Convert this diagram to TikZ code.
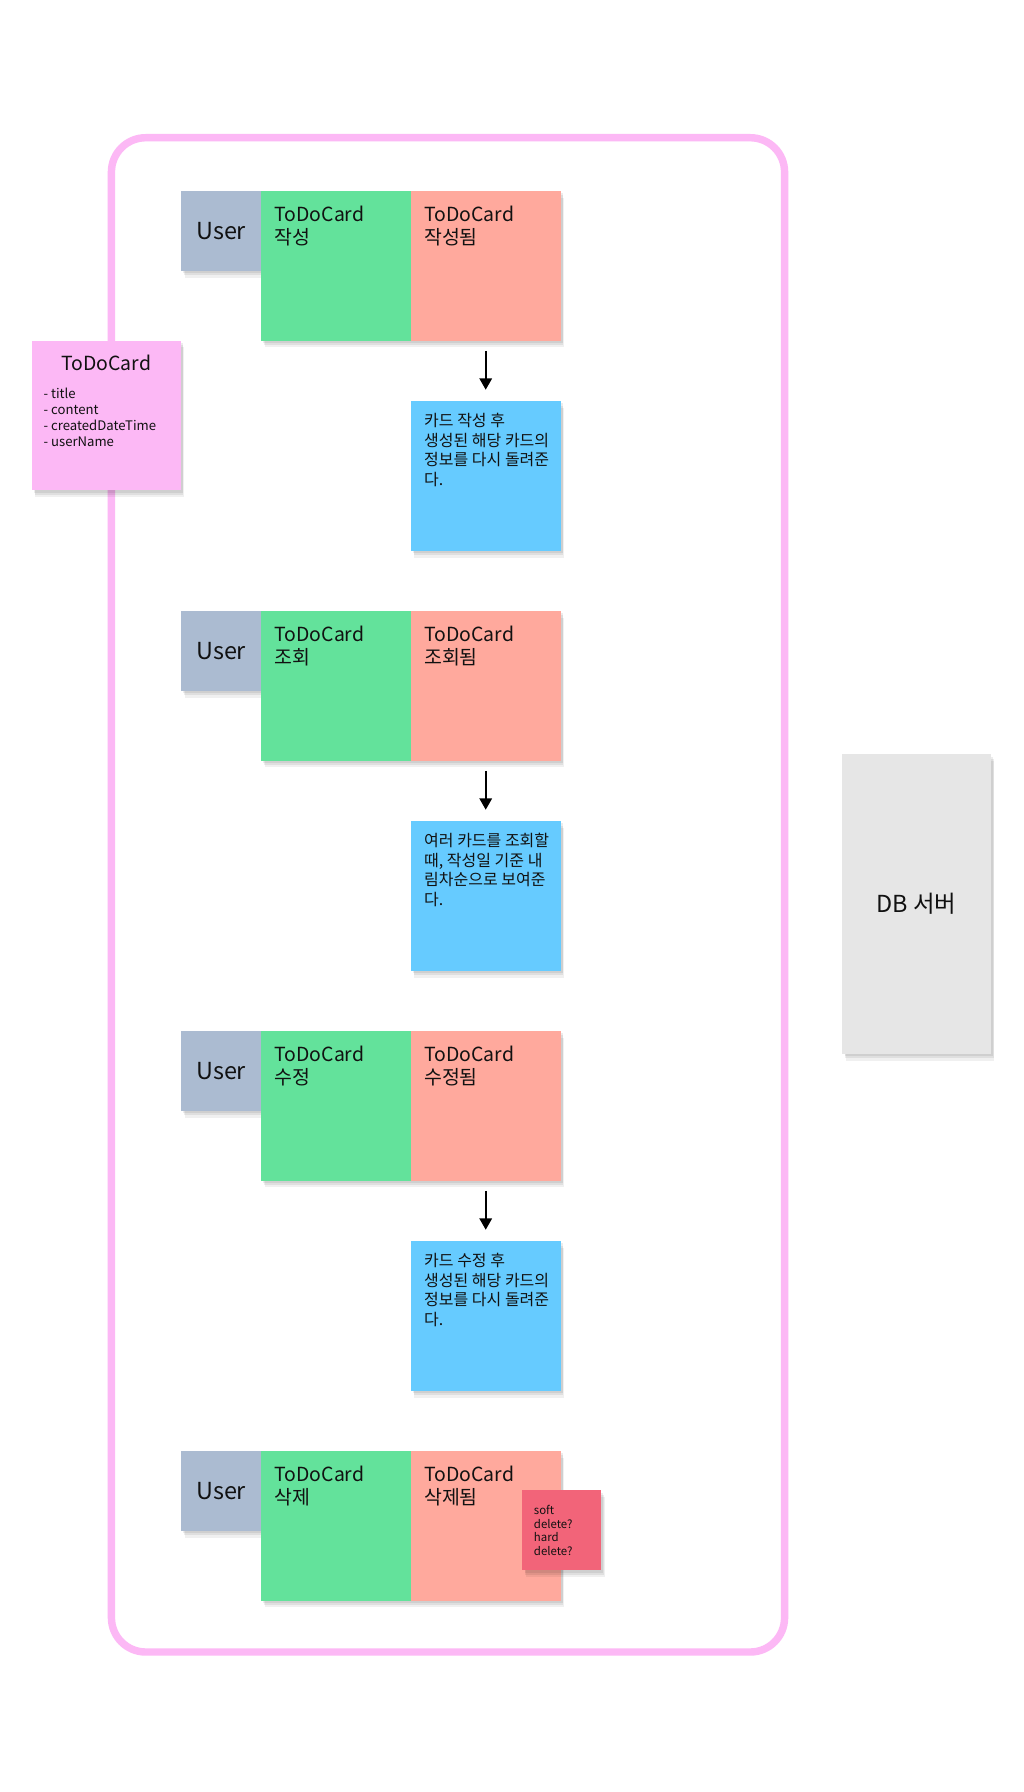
\documentclass[tikz,border=0pt]{standalone}
\usepackage{fontspec}
\setmainfont{Noto Sans CJK KR}
\usetikzlibrary{arrows.meta,shadows}

\definecolor{userbox}{HTML}{ABBBD1}
\definecolor{cmdbox}{HTML}{63E29B}
\definecolor{eventbox}{HTML}{FFA99D}
\definecolor{notebox}{HTML}{66CBFF}
\definecolor{aggbox}{HTML}{FCB8F5}
\definecolor{hotbox}{HTML}{F26479}
\definecolor{extbox}{HTML}{E6E6E6}
\definecolor{ink}{HTML}{111111}

% multi-line texts are anchored at the baseline of their last line
\tikzset{
  card/.style={draw=none, inner sep=0pt, outer sep=0pt, text=ink,
    drop shadow={shadow xshift=2pt, shadow yshift=-2pt, opacity=0.07, fill=black},
    drop shadow={shadow xshift=2.5pt, shadow yshift=-4pt, opacity=0.07, fill=black},
    drop shadow={shadow xshift=3pt, shadow yshift=-6pt, opacity=0.06, fill=black}},
  title/.style={inner sep=0pt, align=left, text=ink,
    font=\fontsize{17}{20.5}\selectfont},
  memo/.style={inner sep=0pt, align=left, text=ink,
    font=\fontsize{14}{17}\selectfont},
  flow/.style={line width=1.5pt, -{Triangle[length=10pt,width=11pt]},
    shorten <=9pt, shorten >=10pt},
}

% one row: actor, command and resulting event
\newcommand\cardrow[4]{%
  \node[card, fill=userbox, minimum width=70pt, minimum height=70pt,
        font=\fontsize{20.5}{24}\selectfont] (u#1) at (193.5,#2+35) {User};
  \node[card, fill=cmdbox, minimum width=131pt, minimum height=131pt] (c#1) at (294,#2+65.5) {};
  \node[card, fill=eventbox, minimum width=131pt, minimum height=131pt] (e#1) at (425,#2+65.5) {};
  \node[title, anchor=base west] (ct#1) at (240,#2+47) {ToDoCard\\#3};
  \node[title, anchor=base west] (et#1) at (371,#2+47) {ToDoCard\\#4};
}

\begin{document}
\begin{tikzpicture}[x=1pt, y=-1pt]
\useasboundingbox[fill=white] (0,0) rectangle (896,1568);

% bounded context frame
\node[draw=aggbox, line width=6.5pt, rounded corners=30pt, inner sep=0pt,
      minimum width=589pt, minimum height=1325pt] (frame) at (392,783) {};

% aggregate
\node[card, fill=aggbox, minimum width=130pt, minimum height=131pt] (agg) at (93,363.5) {};
\node[title, anchor=base] (aggt) at (93,324.5) {ToDoCard};
\node[inner sep=0pt, align=left, text=ink, anchor=base west,
      font=\fontsize{11.5}{14}\selectfont] (aggl) at (38,391)
  {- title\\- content\\- createdDateTime\\- userName};

\cardrow{1}{167}{작성}{작성됨}
\cardrow{2}{534.5}{조회}{조회됨}
\cardrow{3}{902}{수정}{수정됨}
\cardrow{4}{1269.5}{삭제}{삭제됨}

% notes below the events
\node[card, fill=notebox, minimum width=131pt, minimum height=131pt] (n1) at (425,416.5) {};
\node[memo, anchor=base west] (nt1) at (371,424.5)
  {카드 작성 후\\생성된 해당 카드의\\정보를 다시 돌려준\\다.};
\node[card, fill=notebox, minimum width=131pt, minimum height=131pt] (n2) at (425,784) {};
\node[memo, anchor=base west] (nt2) at (371,792)
  {여러 카드를 조회할\\때, 작성일 기준 내\\림차순으로 보여준\\다.};
\node[card, fill=notebox, minimum width=131pt, minimum height=131pt] (n3) at (425,1151.5) {};
\node[memo, anchor=base west] (nt3) at (371,1159.5)
  {카드 수정 후\\생성된 해당 카드의\\정보를 다시 돌려준\\다.};

\draw[flow] (e1.south) -- (n1.north);
\draw[flow] (e2.south) -- (n2.north);
\draw[flow] (e3.south) -- (n3.north);

% open question on deletion
\node[card, fill=hotbox, minimum width=69pt, minimum height=70pt] (hot) at (491.5,1339) {};
\node[inner sep=0pt, align=left, text=ink, anchor=base west,
      font=\fontsize{10}{12}\selectfont] (hott) at (467,1361)
  {soft\\delete?\\hard\\delete?};

% external system
\node[card, fill=extbox, minimum width=130pt, minimum height=262pt,
      font=\fontsize{20.5}{22}\selectfont] (db) at (802,791) {DB 서버};
\end{tikzpicture}
\end{document}
